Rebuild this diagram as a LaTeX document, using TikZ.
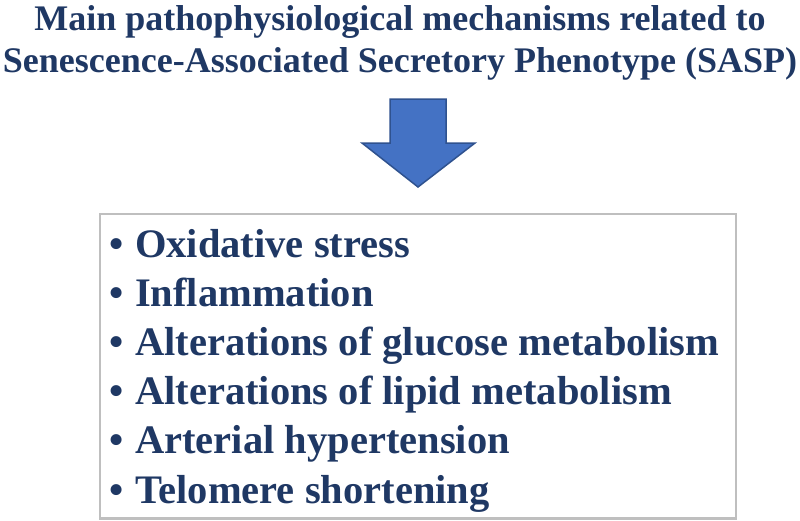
\documentclass[tikz,border=0pt]{standalone}
\usepackage{fontspec}
\setmainfont{Liberation Serif}
\definecolor{navy}{HTML}{1F3864}
\definecolor{arrowfill}{HTML}{4472C4}
\definecolor{arrowline}{HTML}{2F528F}
\definecolor{boxgray}{HTML}{BFBFBF}
\begin{document}
\begin{tikzpicture}[x=1pt,y=-1pt,
  titletext/.style={anchor=base,inner sep=0pt,text=navy,font=\fontsize{36}{42}\selectfont\bfseries},
  itemtext/.style={anchor=base west,inner sep=0pt,text=navy,font=\fontsize{40.5}{49}\selectfont\bfseries},
  bigarrow/.style={fill=arrowfill,draw=arrowline,line width=1.5pt,line join=miter},
  listbox/.style={draw=boxgray,line width=2.2pt,fill=none}]
\useasboundingbox (0,0) rectangle (800,520);
\node[titletext] (t1) at (400,30) {Main pathophysiological mechanisms related to};
\node[titletext] (t2) at (400,72) {Senescence-Associated Secretory Phenotype (SASP)};
\draw[bigarrow] (390,99) -- (446,99) -- (446,143) -- (475,143) -- (418,187) -- (362,143) -- (390,143) -- cycle;
\draw[listbox] (100,214) rectangle (736,518.5);
\foreach \n/\y/\t in {1/257/Oxidative stress,2/306/Inflammation,3/355/Alterations of glucose metabolism,4/404/Alterations of lipid metabolism,5/453/Arterial hypertension,6/503/Telomere shortening}{
  \node[itemtext] (b\n) at (109,\y) {\textbullet};
  \node[itemtext] (i\n) at (135,\y) {\t};
}
\end{tikzpicture}
\end{document}
